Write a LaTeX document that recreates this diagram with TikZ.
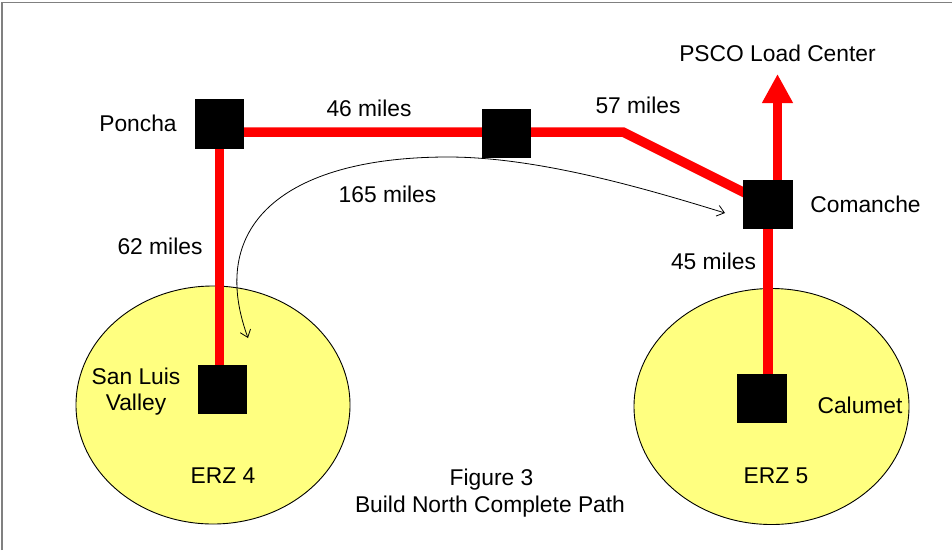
\documentclass[tikz,border=0pt]{standalone}
\usepackage{fontspec}
\setmainfont{Liberation Sans}
\usetikzlibrary{shapes.geometric,arrows.meta}
\pgfdeclarelayer{zones}
\pgfdeclarelayer{lines}
\pgfsetlayers{zones,lines,main}
\definecolor{zonefill}{RGB}{255,255,128}
\definecolor{framegray}{RGB}{128,128,128}
\tikzset{
  lbl/.style={inner sep=0pt, anchor=base, font=\fontsize{22.8}{26}\selectfont},
  sub/.style={fill=black, draw=none, minimum width=49.5pt, minimum height=49.5pt, inner sep=0pt},
  zone/.style={ellipse, draw=black, line width=0.9pt, fill=zonefill, inner sep=0pt},
  redline/.style={draw=red, line width=9.5pt},
  bigarrow/.style={redline, -{Triangle[length=29pt,width=29pt]}},
  mileage/.style={draw=black, line width=0.8pt,
    {Straight Barb[length=7pt,width=11pt]}-{Straight Barb[length=7pt,width=11pt]}},
}
\begin{document}
\begin{tikzpicture}[x=1pt,y=-1pt]
\useasboundingbox (0,0) rectangle (952,550);

% substations
\node[sub] (poncha) at (219.5,124) {};
\node[sub] (mid) at (506.5,133.5) {};
\node[sub] (comanche) at (768,204.5) {};
\node[sub] (slv) at (222.5,389.5) {};
\node[sub] (calumet) at (762,398.5) {};

% page background, frame edges and energy resource zones
\begin{pgfonlayer}{zones}
\fill[white] (0,0) rectangle (952,550);
\draw[framegray, line width=1.5pt] (2,550) -- (2,2.5) -- (952,2.5);
\node[zone, minimum width=274pt, minimum height=238pt] (erz4) at (213,405) {};
\node[zone, minimum width=275pt, minimum height=236pt] (erz5) at (771.5,406.5) {};
\end{pgfonlayer}

% transmission lines
\coordinate (bend) at (623,132);
\coordinate (psco-tip) at (777.5,74);
\begin{pgfonlayer}{lines}
\draw[redline] (poncha.center |- bend) -- (bend) -- (comanche.center);
\draw[redline] (poncha.center) -- (poncha.center |- slv.center);
\draw[redline] (comanche.center) -- (comanche.center |- calumet.center);
\draw[bigarrow] (comanche.center -| psco-tip) -- (psco-tip);
\end{pgfonlayer}

% direct path
\coordinate (slv-end) at (248,338);
\coordinate (arc-top) at (448,157);
\coordinate (com-end) at (725,213);
\draw[mileage] (slv-end) .. controls (205,220) and (292,157) .. (arc-top)
  .. controls (540,157) and (650,190) .. (com-end);

% labels
\node[lbl] (psco) at (777.5,61) {PSCO Load Center};
\node[lbl] (poncha-lbl) at (138,131.5) {Poncha};
\node[lbl] (d46) at (369,116.5) {46 miles};
\node[lbl] (d57) at (638,113) {57 miles};
\node[lbl] (d165) at (387.5,202) {165 miles};
\node[lbl] (d62) at (160,254) {62 miles};
\node[lbl] (d45) at (713.5,269) {45 miles};
\node[lbl] (comanche-lbl) at (865.5,212) {Comanche};
\node[lbl, anchor=center, align=center] (slv-lbl) at (136,392) {San Luis\\Valley};
\node[lbl] (calumet-lbl) at (860,413) {Calumet};
\node[lbl] (erz4-lbl) at (223,483) {ERZ 4};
\node[lbl] (erz5-lbl) at (776,483) {ERZ 5};
\node[lbl] (fig) at (491.5,485) {Figure 3};
\node[lbl] (caption) at (490,512.5) {Build North Complete Path};
\end{tikzpicture}
\end{document}
